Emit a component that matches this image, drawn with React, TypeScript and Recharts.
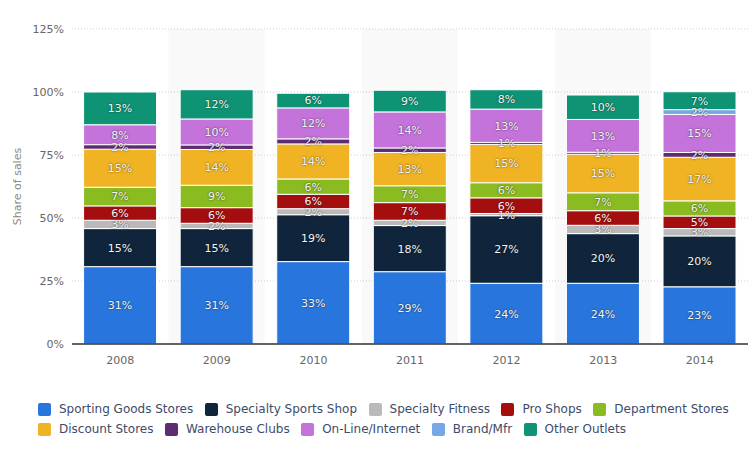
import React from 'react';
import { BarChart, Bar, XAxis, YAxis, CartesianGrid, LabelList } from 'recharts';

const years = ['2008', '2009', '2010', '2011', '2012', '2013', '2014'];

const sportingGoods = [30.7, 30.7, 32.7, 28.7, 24.1, 24.1, 22.7];
const specialtySports = [15.1, 15.1, 18.6, 18.3, 26.8, 19.7, 20.2];
const specialtyFitness = [3.3, 2.1, 2.4, 2.1, 0.9, 3.3, 2.9];
const proShops = [5.7, 6.2, 5.7, 7.0, 6.2, 5.8, 5.0];
const departmentStores = [7.4, 8.9, 6.1, 6.7, 6.0, 7.1, 6.0];
const discountStores = [15.1, 14.2, 13.9, 13.2, 15.2, 15.3, 17.3];
const warehouseClubs = [1.8, 1.8, 2.0, 1.8, 0.8, 0.8, 1.9];
const onlineInternet = [7.9, 10.3, 12.3, 14.3, 13.2, 13.0, 15.1];
const brandMfr = [null, null, null, null, null, null, 1.9];
const otherOutlets = [13.0, 11.6, 5.8, 8.6, 7.7, 9.7, 7.1];

const yTicks = [0, 25, 50, 75, 100, 125];

const series = [
  { key: 'sporting', name: 'Sporting Goods Stores', color: '#2876dd', values: sportingGoods },
  { key: 'specialtySports', name: 'Specialty Sports Shop', color: '#10253b', values: specialtySports },
  { key: 'fitness', name: 'Specialty Fitness', color: '#bababa', values: specialtyFitness },
  { key: 'pro', name: 'Pro Shops', color: '#a50e0e', values: proShops },
  { key: 'dept', name: 'Department Stores', color: '#8abb21', values: departmentStores },
  { key: 'discount', name: 'Discount Stores', color: '#efb323', values: discountStores },
  { key: 'warehouse', name: 'Warehouse Clubs', color: '#5d2c73', values: warehouseClubs },
  { key: 'online', name: 'On-Line/Internet', color: '#c373d9', values: onlineInternet },
  { key: 'brand', name: 'Brand/Mfr', color: '#76a7e6', values: brandMfr },
  { key: 'other', name: 'Other Outlets', color: '#0e9475', values: otherOutlets },
];

const yMax = yTicks[yTicks.length - 1];

const data = years.map((year, i) => {
  const row: Record<string, any> = { year, band: i % 2 === 1 ? yMax : 0 };
  series.forEach((s) => {
    row[s.key] = s.values[i];
  });
  return row;
});

const fmt = (v: any) => (v == null || v === 0 ? '' : `${Math.round(Number(v))}%`);

const legendRows = [series.slice(0, 5), series.slice(5)];

const FONT = '"DejaVu Sans", Verdana, sans-serif';

export default function App() {
  return (
    <div
      style={{
        position: 'absolute',
        left: 0,
        top: 0,
        width: 756,
        height: 462,
        background: '#fff',
        fontFamily: FONT,
      }}
    >
      <BarChart
        width={756}
        height={462}
        data={data}
        margin={{ top: 29, right: 8, left: 0, bottom: 88 }}
        barCategoryGap="12%"
        style={{ fontFamily: FONT }}
      >
        <XAxis xAxisId="bg" dataKey="year" hide />
        <Bar
          xAxisId="bg"
          dataKey="band"
          fill="#000"
          fillOpacity={0.022}
          barSize={96}
          legendType="none"
          isAnimationActive={false}
        />
        <CartesianGrid vertical={false} stroke="#cfcfcf" strokeDasharray="1 2" />
        <XAxis
          dataKey="year"
          height={30}
          tickLine={false}
          axisLine={{ stroke: '#333', strokeWidth: 1.5 }}
          tick={{ fill: '#666', fontSize: 11, fontFamily: FONT }}
          tickMargin={6}
        />
        <YAxis
          width={72}
          domain={[0, yMax]}
          ticks={yTicks}
          tickFormatter={(v) => `${v}%`}
          axisLine={false}
          tickLine={false}
          tick={{ fill: '#666', fontSize: 11, fontFamily: FONT }}
          label={{
            value: 'Share of sales',
            angle: -90,
            position: 'center',
            dx: -19,
            fill: '#888',
            fontSize: 11,
            fontFamily: FONT,
          }}
        />
        {series.map((s) => (
          <Bar
            key={s.key}
            dataKey={s.key}
            name={s.name}
            stackId="a"
            fill={s.color}
            stroke="#fff"
            strokeWidth={1}
            isAnimationActive={false}
          >
            <LabelList
              dataKey={s.key}
              position="center"
              formatter={fmt}
              fill="#f4f4f4"
              fontSize={11}
              fontFamily={FONT}
              style={{ textShadow: '0 0 2px rgba(0,0,0,0.7)' }}
            />
          </Bar>
        ))}
      </BarChart>
      <div style={{ position: 'absolute', left: 38, top: 399 }}>
        {legendRows.map((row, ri) => (
          <div key={ri} style={{ display: 'flex', alignItems: 'center', height: 20 }}>
            {row.map((s) => (
              <div key={s.key} style={{ display: 'flex', alignItems: 'center', marginRight: 11.5 }}>
                <span
                  style={{
                    display: 'inline-block',
                    width: 13,
                    height: 13,
                    borderRadius: 2,
                    background: s.color,
                    marginRight: 8,
                  }}
                />
                <span style={{ fontSize: 12, color: '#3e4b69', whiteSpace: 'nowrap' }}>{s.name}</span>
              </div>
            ))}
          </div>
        ))}
      </div>
    </div>
  );
}
